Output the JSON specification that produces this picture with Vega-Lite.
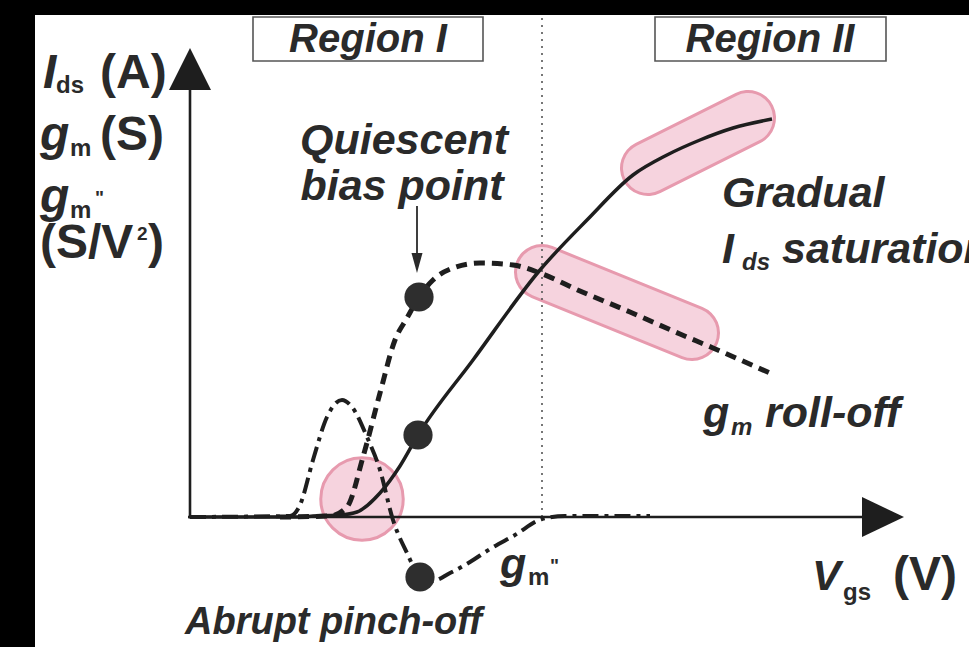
{
  "$schema": "https://vega.github.io/schema/vega-lite/v6.json",
  "width": 934,
  "height": 632,
  "autosize": {"type": "none"},
  "padding": {"left": 35, "top": 15, "right": 0, "bottom": 0},
  "background": "#000000",
  "config": {"view": {"fill": "#ffffff", "stroke": null}},
  "encoding": {
    "x": {"field": "x", "type": "quantitative", "scale": {"domain": [-1.55, 7.79], "nice": false, "zero": false}, "axis": null},
    "y": {"field": "y", "type": "quantitative", "scale": {"domain": [-1.30, 5.02], "nice": false, "zero": false}, "axis": null}
  },
  "layer": [
    {
      "data": {"values": [
        {"id": "A", "x": 3.52, "y": 2.45}, {"id": "A", "x": 5.02, "y": 1.84},
        {"id": "B", "x": 4.58, "y": 3.49}, {"id": "B", "x": 5.58, "y": 3.99}
      ]},
      "mark": {"type": "line", "strokeWidth": 56, "strokeCap": "round", "color": "#e79aae"},
      "encoding": {"detail": {"field": "id"}}
    },
    {
      "data": {"values": [
        {"id": "A", "x": 3.52, "y": 2.45}, {"id": "A", "x": 5.02, "y": 1.84},
        {"id": "B", "x": 4.58, "y": 3.49}, {"id": "B", "x": 5.58, "y": 3.99}
      ]},
      "mark": {"type": "line", "strokeWidth": 50, "strokeCap": "round", "color": "#f6d3de"},
      "encoding": {"detail": {"field": "id"}}
    },
    {
      "data": {"values": [{"x": 1.72, "y": 0.18}]},
      "mark": {"type": "point", "shape": "circle", "size": 6800, "fill": "#f6d3de", "stroke": "#e79aae", "strokeWidth": 3, "opacity": 1, "fillOpacity": 1, "strokeOpacity": 1}
    },
    {
      "data": {"values": [{"x": 3.52, "y": 0, "y2": 5.02}]},
      "mark": {"type": "rule", "strokeDash": [2, 5], "strokeWidth": 1.6, "color": "#555555"},
      "encoding": {"y2": {"field": "y2"}}
    },
    {
      "data": {"values": [
        {"x": -0.02, "y": 0, "x2": 6.76, "y2": 0},
        {"x": 0, "y": -0.015, "x2": 0, "y2": 4.29}
      ]},
      "mark": {"type": "rule", "strokeWidth": 2.6, "color": "#1e1e1e"},
      "encoding": {"x2": {"field": "x2"}, "y2": {"field": "y2"}}
    },
    {
      "data": {"values": [{"x": 2.27, "y": 3.11, "y2": 2.60}]},
      "mark": {"type": "rule", "strokeWidth": 1.8, "color": "#2a2a2a"},
      "encoding": {"y2": {"field": "y2"}}
    },
    {
      "data": {"values": [
        {"c": "Ids", "x": 0, "y": 0}, {"c": "Ids", "x": 1.10, "y": 0}, {"c": "Ids", "x": 1.23, "y": 0.01},
        {"c": "Ids", "x": 1.50, "y": 0.02}, {"c": "Ids", "x": 1.67, "y": 0.05}, {"c": "Ids", "x": 1.90, "y": 0.24},
        {"c": "Ids", "x": 2.10, "y": 0.51}, {"c": "Ids", "x": 2.28, "y": 0.82}, {"c": "Ids", "x": 2.83, "y": 1.57},
        {"c": "Ids", "x": 3.50, "y": 2.47}, {"c": "Ids", "x": 3.97, "y": 2.97}, {"c": "Ids", "x": 4.43, "y": 3.42},
        {"c": "Ids", "x": 4.77, "y": 3.62}, {"c": "Ids", "x": 5.10, "y": 3.77}, {"c": "Ids", "x": 5.43, "y": 3.89},
        {"c": "Ids", "x": 5.82, "y": 3.98}
      ]},
      "mark": {"type": "line", "interpolate": "monotone", "strokeWidth": 3.5, "color": "#1e1e1e"}
    },
    {
      "data": {"values": [
        {"c": "gm", "x": 0.9, "y": 0}, {"c": "gm", "x": 1.40, "y": 0.01}, {"c": "gm", "x": 1.57, "y": 0.10},
        {"c": "gm", "x": 1.73, "y": 0.60}, {"c": "gm", "x": 1.90, "y": 1.24}, {"c": "gm", "x": 2.05, "y": 1.77},
        {"c": "gm", "x": 2.17, "y": 1.99}, {"c": "gm", "x": 2.29, "y": 2.20}, {"c": "gm", "x": 2.43, "y": 2.37},
        {"c": "gm", "x": 2.63, "y": 2.49}, {"c": "gm", "x": 2.90, "y": 2.54}, {"c": "gm", "x": 3.23, "y": 2.52},
        {"c": "gm", "x": 3.50, "y": 2.44}, {"c": "gm", "x": 3.90, "y": 2.26}, {"c": "gm", "x": 4.40, "y": 2.05},
        {"c": "gm", "x": 4.90, "y": 1.83}, {"c": "gm", "x": 5.23, "y": 1.69}, {"c": "gm", "x": 5.82, "y": 1.43}
      ]},
      "mark": {"type": "line", "interpolate": "monotone", "strokeWidth": 5, "strokeDash": [11, 7], "color": "#1e1e1e"}
    },
    {
      "data": {"values": [
        {"c": "gm2", "x": 0, "y": 0}, {"c": "gm2", "x": 1.00, "y": 0.01}, {"c": "gm2", "x": 1.10, "y": 0.12},
        {"c": "gm2", "x": 1.23, "y": 0.57}, {"c": "gm2", "x": 1.37, "y": 1.00}, {"c": "gm2", "x": 1.52, "y": 1.17},
        {"c": "gm2", "x": 1.62, "y": 1.10}, {"c": "gm2", "x": 1.77, "y": 0.80}, {"c": "gm2", "x": 1.90, "y": 0.47},
        {"c": "gm2", "x": 2.03, "y": -0.03}, {"c": "gm2", "x": 2.17, "y": -0.36}, {"c": "gm2", "x": 2.30, "y": -0.60},
        {"c": "gm2", "x": 2.42, "y": -0.64}, {"c": "gm2", "x": 2.60, "y": -0.56}, {"c": "gm2", "x": 2.80, "y": -0.45},
        {"c": "gm2", "x": 3.00, "y": -0.32}, {"c": "gm2", "x": 3.25, "y": -0.18}, {"c": "gm2", "x": 3.52, "y": -0.02},
        {"c": "gm2", "x": 3.75, "y": 0.01}, {"c": "gm2", "x": 4.60, "y": 0.01}
      ]},
      "mark": {"type": "line", "interpolate": "monotone", "strokeWidth": 4, "strokeDash": [16, 6, 4, 6], "color": "#1e1e1e"}
    },
    {
      "data": {"values": [{"x": 2.29, "y": 2.20}, {"x": 2.28, "y": 0.82}, {"x": 2.30, "y": -0.60}]},
      "mark": {"type": "point", "shape": "circle", "filled": true, "size": 855, "color": "#2e2e2e", "opacity": 1}
    },
    {
      "data": {"values": [{"x": 6.93, "y": 0}]},
      "mark": {"type": "point", "shape": "M-1,-0.95L1,0L-1,0.95Z", "filled": true, "size": 1764, "color": "#1e1e1e", "opacity": 1}
    },
    {
      "data": {"values": [{"x": 0, "y": 4.48}]},
      "mark": {"type": "point", "shape": "M0,-1L1,1L-1,1Z", "filled": true, "size": 1764, "color": "#1e1e1e", "opacity": 1}
    },
    {
      "data": {"values": [{"x": 2.27, "y": 2.54}]},
      "mark": {"type": "point", "shape": "M-0.55,-1L0.55,-1L0,1Z", "filled": true, "size": 400, "color": "#2a2a2a", "opacity": 1}
    },
    {
      "data": {"values": [
        {"x": 0.63, "x2": 2.93, "y": 5.00, "y2": 4.56},
        {"x": 4.65, "x2": 6.96, "y": 5.00, "y2": 4.56}
      ]},
      "mark": {"type": "rect", "fill": "#ffffff", "stroke": "#555555", "strokeWidth": 1.6},
      "encoding": {"x2": {"field": "x2"}, "y2": {"field": "y2"}}
    },
    {
      "data": {"values": [
        {"x": 1.78, "y": 4.65, "t": "Region I"},
        {"x": 5.80, "y": 4.65, "t": "Region II"}
      ]},
      "mark": {"type": "text", "font": "Liberation Sans", "fontSize": 40, "fontWeight": "bold", "fontStyle": "italic", "align": "center", "baseline": "alphabetic", "color": "#2a2a2a"},
      "encoding": {"text": {"field": "t"}}
    },
    {
      "data": {"values": [
        {"x": 2.14, "y": 3.63, "t": "Quiescent"},
        {"x": 2.12, "y": 3.17, "t": "bias point"}
      ]},
      "mark": {"type": "text", "font": "Liberation Sans", "fontSize": 43, "fontWeight": "bold", "fontStyle": "italic", "align": "center", "baseline": "alphabetic", "color": "#2a2a2a"},
      "encoding": {"text": {"field": "t"}}
    },
    {
      "data": {"values": [
        {"x": 5.32, "y": 3.10, "t": "Gradual"},
        {"x": 5.32, "y": 2.54, "t": "I"},
        {"x": 5.92, "y": 2.54, "t": "saturation"},
        {"x": 5.13, "y": 0.90, "t": "g"},
        {"x": 5.75, "y": 0.90, "t": "roll-off"},
        {"x": 3.10, "y": -0.61, "t": "g"},
        {"x": 6.22, "y": -0.73, "t": "V"}
      ]},
      "mark": {"type": "text", "font": "Liberation Sans", "fontSize": 43, "fontWeight": "bold", "fontStyle": "italic", "align": "left", "baseline": "alphabetic", "color": "#2a2a2a"},
      "encoding": {"text": {"field": "t"}}
    },
    {
      "data": {"values": [
        {"x": -0.05, "y": -1.17, "t": "Abrupt pinch-off"}
      ]},
      "mark": {"type": "text", "font": "Liberation Sans", "fontSize": 38, "fontWeight": "bold", "fontStyle": "italic", "align": "left", "baseline": "alphabetic", "color": "#2a2a2a"},
      "encoding": {"text": {"field": "t"}}
    },
    {
      "data": {"values": [
        {"x": -1.47, "y": 4.29, "t": "I"},
        {"x": -1.50, "y": 3.67, "t": "g"},
        {"x": -1.50, "y": 3.05, "t": "g"}
      ]},
      "mark": {"type": "text", "font": "Liberation Sans", "fontSize": 48, "fontWeight": "bold", "fontStyle": "italic", "align": "left", "baseline": "alphabetic", "color": "#2a2a2a"},
      "encoding": {"text": {"field": "t"}}
    },
    {
      "data": {"values": [
        {"x": -0.90, "y": 4.29, "t": "(A)"},
        {"x": -0.90, "y": 3.67, "t": "(S)"},
        {"x": -1.50, "y": 2.59, "t": "(S/V"},
        {"x": -0.42, "y": 2.59, "t": ")"},
        {"x": 7.03, "y": -0.73, "t": "(V)"}
      ]},
      "mark": {"type": "text", "font": "Liberation Sans", "fontSize": 48, "fontWeight": "bold", "align": "left", "baseline": "alphabetic", "color": "#2a2a2a"},
      "encoding": {"text": {"field": "t"}}
    },
    {
      "data": {"values": [
        {"x": -1.34, "y": 4.24, "t": "ds"},
        {"x": -1.20, "y": 3.61, "t": "m"},
        {"x": -1.20, "y": 2.99, "t": "m"},
        {"x": 3.38, "y": -0.68, "t": "m"},
        {"x": 6.53, "y": -0.83, "t": "gs"}
      ]},
      "mark": {"type": "text", "font": "Liberation Sans", "fontSize": 24, "fontWeight": "bold", "align": "left", "baseline": "alphabetic", "color": "#2a2a2a"},
      "encoding": {"text": {"field": "t"}}
    },
    {
      "data": {"values": [
        {"x": 5.52, "y": 2.47, "t": "ds"},
        {"x": 5.41, "y": 0.82, "t": "m"}
      ]},
      "mark": {"type": "text", "font": "Liberation Sans", "fontSize": 24, "fontWeight": "bold", "fontStyle": "italic", "align": "left", "baseline": "alphabetic", "color": "#2a2a2a"},
      "encoding": {"text": {"field": "t"}}
    },
    {
      "data": {"values": [
        {"x": -0.95, "y": 3.13, "t": "\""},
        {"x": 3.60, "y": -0.55, "t": "\""},
        {"x": -0.53, "y": 2.77, "t": "2"}
      ]},
      "mark": {"type": "text", "font": "Liberation Sans", "fontSize": 19, "fontWeight": "bold", "align": "left", "baseline": "alphabetic", "color": "#2a2a2a"},
      "encoding": {"text": {"field": "t"}}
    }
  ]
}
